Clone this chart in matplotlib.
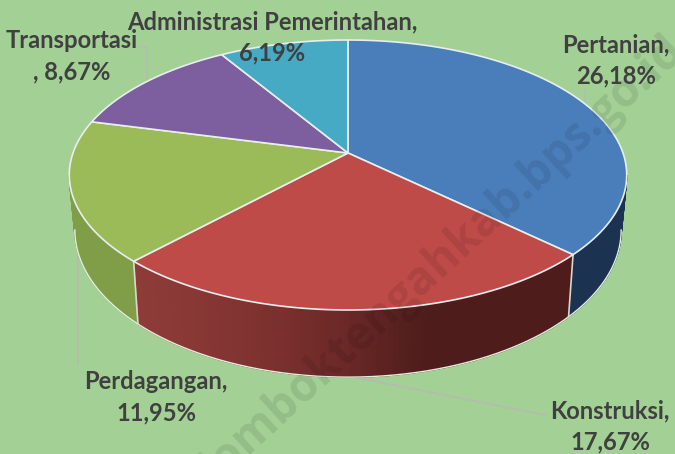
import numpy as np
import matplotlib
matplotlib.use("Agg")
import matplotlib.pyplot as plt
from matplotlib.colors import to_rgb

categories = ["Pertanian", "Konstruksi", "Perdagangan", "Transportasi", "Administrasi Pemerintahan"]
values = [26.18, 17.67, 11.95, 8.67, 6.19]
value_labels = ["26,18%", "17,67%", "11,95%", "8,67%", "6,19%"]
top_colors = ["#4A7EBB", "#BE4B48", "#9BBB59", "#7D5FA0", "#46AAC5"]
side_stops = [
    [(0, "#1B3350"), (675, "#1B3350")],
    [(135, "#8F3C39"), (250, "#803331"), (340, "#6C2927"), (425, "#4E1D1B"), (675, "#4E1D1B")],
    [(0, "#7F9E47"), (675, "#7F9E47")],
    [(0, "#5E4778"), (675, "#5E4778")],
    [(0, "#337F94"), (675, "#337F94")],
]
BG = "#A3D095"
TXT = "#404040"

W, H = 675, 454
fig = plt.figure(figsize=(W / 100, H / 100), dpi=100, facecolor=BG)
ax = fig.add_axes([0, 0, 1, 1])
ax.set_xlim(0, W)
ax.set_ylim(H, 0)
ax.axis("off")

CX, CY = 348.0, 153.0
A, B, K = 275.0, 131.4, 0.163
T_LO, T_HI = np.arccos(-K), 2 * np.pi - np.arccos(-K)  # widest points of the rim


def top_rim(t):
    x, y = np.sin(t), np.cos(t)
    d = 1 + K * y
    return CX + A * x / d, CY - B * y / d


def bottom_rim(t):
    x, y = np.sin(t), np.cos(t)
    d = 1 + K * y
    return CX + 0.98 * A * x / d, CY - (1.09 * B * y / d - 53)


def side_color(stops, x):
    xs = [s[0] for s in stops]
    rgb = np.array([to_rgb(s[1]) for s in stops])
    return tuple(np.interp(x, xs, rgb[:, i]) for i in range(3))


fractions = np.array(values) / np.sum(values)
edges = np.concatenate([[0], np.cumsum(fractions)]) * 2 * np.pi

# side wall: only the front part between the widest points shows
for i in range(len(values)):
    lo, hi = max(edges[i], T_LO), min(edges[i + 1], T_HI)
    if hi <= lo:
        continue
    ts = np.linspace(lo, hi, max(3, int((hi - lo) * 60)))
    for t0, t1 in zip(ts[:-1], ts[1:]):
        xa, ya = top_rim(np.array([t0, t1]))
        xb, yb = bottom_rim(np.array([t1, t0]))
        c = side_color(side_stops[i], (xa[0] + xa[1]) / 2)
        ax.fill(np.r_[xa, xb], np.r_[ya, yb], facecolor=c, edgecolor=c, lw=1.0, zorder=2)

# bottom rim highlight and vertical seams
tf = np.linspace(T_LO, T_HI, 400)
bx, by = bottom_rim(tf)
ax.plot(bx, by, color="#E4EDE0", lw=1.0, zorder=3)
for e in edges[1:3]:
    xa, ya = top_rim(e)
    xb, yb = bottom_rim(e)
    ax.plot([xa, xb], [ya, yb], color="#D8D8D0", lw=1.2, zorder=3)

# top faces
for i in range(len(values)):
    ts = np.linspace(edges[i], edges[i + 1], 200)
    x, y = top_rim(ts)
    ax.fill(np.r_[CX, x, CX], np.r_[CY, y, CY], facecolor=top_colors[i],
            edgecolor="#E8EEF0", lw=1.2, joinstyle="round", zorder=4)

# leader lines
LEAD = "#B4BCB0"
ax.plot([138, 147, 147], [47, 47, 82], color=LEAD, lw=1.2, zorder=1)
ax.plot([78, 78], [256, 365], color=LEAD, lw=1.3, zorder=1)
ax.plot([358, 545], [378, 415], color=LEAD, lw=1.3, zorder=1)
ax.plot([585, 585], [90, 106], color=LEAD, lw=1.2, zorder=1)

# labels: name, then value
fp = dict(family=["Lato", "DejaVu Sans"], fontweight="bold", color=TXT, fontsize=17.1,
          ha="center", va="center", zorder=7, linespacing=1.42)
label_text = [f"{c},\n{v}" for c, v in zip(categories, value_labels)]
label_text[3] = f"{categories[3]}\n, {value_labels[3]}"
label_xy = [(616, 60), (610, 426), (156, 397), (72, 56), (272, 37)]
for s, (lx, ly) in zip(label_text, label_xy):
    ax.text(lx, ly, s, **fp)

# watermark
ax.text(442, 258, "lomboktengahkab.bps.go.id", rotation=42.5, rotation_mode="anchor",
        ha="center", va="center", family="Open Sans", fontweight="bold", fontsize=33,
        color="black", alpha=0.09, zorder=6, clip_on=True)

fig.savefig("out.png", dpi=100, facecolor=BG)
